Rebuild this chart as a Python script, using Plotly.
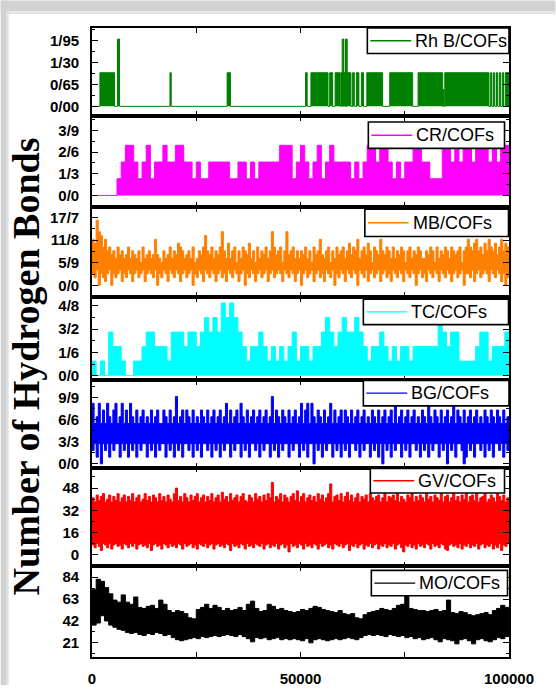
import plotly.graph_objects as go

# ---------------- data ----------------
X_MAX = 100000

series_names = ["Rh B/COFs", "CR/COFs", "MB/COFs", "TC/COFs", "BG/COFs", "GV/COFs", "MO/COFs"]
series_colors = ["#008000", "#FF00FF", "#FF8000", "#00FFFF", "#0000FF", "#FF0000", "#000000"]

# Rh B/COFs : events (start, end, level) above a zero baseline
rhb_start = [1900, 6100, 18700, 32400, 51200, 52500, 57000, 58300, 59700, 60000,
             60400, 60800, 61200, 62500, 63400, 64600, 65900, 71400, 78200, 84100,
             84600, 95600, 96300, 97000, 97700, 98400, 99100]
rhb_end = [5400, 6600, 19000, 33200, 51600, 56600, 57700, 59500, 60000, 60400,
           60800, 61200, 62100, 62900, 64000, 65100, 69700, 76900, 84100, 84400,
           95200, 95900, 96600, 97300, 98000, 98700, 100000]
rhb_level = [1, 2, 1, 1, 1, 1, 1, 1, 1, 2,
             1, 2, 1, 1, 1, 1, 1, 1, 1, 0.5,
             1, 1, 1, 1, 1, 1, 1]

# CR/COFs : block maxima (baseline 0), 100 blocks
cr_level = [0, 0, 0, 0, 0, 0, 1, 2, 3, 3,
            2, 1, 2, 3, 1, 2, 2, 3, 2, 2,
            3, 3, 2, 2, 1, 2, 1, 1, 2, 2,
            2, 2, 2, 1, 1, 2, 2, 1, 2, 1,
            2, 2, 2, 2, 2, 3, 3, 3, 1, 2,
            3, 2, 1, 2, 3, 1, 2, 3, 2, 2,
            2, 2, 1, 2, 1, 2, 3, 3, 2, 3,
            3, 2, 1, 2, 1, 2, 2, 3, 3, 2,
            2, 1, 1, 1, 3, 3, 2, 3, 2, 3,
            3, 2, 3, 3, 3, 2, 3, 2, 3, 3]

# MB/COFs : block max / min, 200 blocks
mb_upper = [12, 11, 17, 14, 13, 10, 12, 9, 10, 8, 9, 7, 10, 8, 9, 7, 8, 10, 7, 9,
            8, 7, 9, 6, 10, 7, 8, 9, 7, 8, 12, 8, 7, 6, 9, 7, 8, 10, 7, 9,
            8, 11, 10, 9, 7, 8, 9, 7, 10, 6, 7, 9, 8, 10, 13, 9, 8, 10, 7, 9,
            8, 10, 14, 9, 7, 11, 7, 9, 10, 6, 9, 7, 10, 9, 8, 11, 7, 9, 6, 10,
            7, 9, 8, 10, 7, 9, 14, 10, 8, 9, 10, 6, 9, 14, 8, 9, 10, 7, 9, 7,
            9, 8, 10, 7, 9, 6, 10, 8, 9, 12, 8, 7, 9, 10, 6, 9, 7, 10, 8, 9,
            10, 7, 9, 11, 8, 10, 9, 12, 7, 9, 10, 8, 11, 9, 6, 10, 9, 8, 12, 9,
            8, 10, 9, 7, 10, 7, 9, 8, 10, 9, 6, 9, 10, 7, 9, 8, 10, 9, 7, 7,
            9, 8, 10, 9, 6, 10, 7, 9, 8, 10, 9, 7, 10, 9, 8, 9, 10, 6, 9, 10,
            12, 10, 9, 11, 12, 9, 10, 8, 11, 9, 12, 10, 9, 11, 8, 10, 12, 9, 11, 10]
mb_lower = [3, 2, 4, 0, 3, 2, 1, 3, 4, 0, 3, 2, 3, 4, 1, 3, 2, 4, 3, 1,
            3, 4, 2, 3, 4, 1, 3, 4, 3, 2, 4, 0, 3, 2, 4, 3, 1, 4, 3, 2,
            4, 3, 1, 3, 4, 2, 3, 4, 0, 3, 2, 4, 3, 1, 4, 3, 2, 4, 3, 1,
            3, 4, 2, 3, 1, 4, 3, 2, 4, 3, 1, 3, 4, 0, 3, 2, 4, 3, 1, 3,
            4, 2, 3, 4, 1, 3, 4, 2, 3, 4, 3, 1, 4, 3, 2, 4, 3, 1, 3, 4,
            0, 3, 4, 2, 3, 4, 1, 3, 4, 2, 3, 1, 4, 3, 2, 4, 0, 3, 2, 4,
            3, 1, 4, 3, 2, 4, 3, 0, 4, 3, 2, 4, 1, 3, 4, 2, 3, 4, 1, 3,
            4, 2, 3, 1, 4, 3, 2, 4, 3, 1, 4, 3, 2, 4, 3, 0, 3, 4, 2, 3,
            1, 4, 3, 2, 4, 3, 1, 4, 3, 2, 4, 3, 1, 3, 4, 2, 3, 4, 0, 3,
            3, 2, 4, 1, 3, 4, 2, 3, 4, 3, 1, 4, 3, 2, 4, 3, 1, 3, 0, 2]

# TC/COFs : block maxima (baseline 0), 100 blocks
tc_level = [1, 0, 1, 0, 3, 2, 2, 1, 0, 0,
            1, 1, 2, 3, 3, 2, 2, 2, 1, 3,
            3, 3, 2, 3, 3, 2, 3, 4, 3, 4,
            3, 5, 4, 5, 4, 3, 2, 1, 2, 2,
            3, 2, 1, 2, 1, 2, 1, 2, 3, 1,
            2, 2, 1, 2, 2, 3, 4, 3, 2, 3,
            4, 3, 3, 4, 3, 2, 1, 2, 2, 3,
            2, 1, 2, 1, 2, 2, 1, 2, 2, 2,
            2, 2, 2, 4, 3, 2, 3, 3, 1, 1,
            1, 1, 2, 3, 3, 1, 2, 2, 2, 3]

# BG/COFs : block max / min, 200 blocks
bg_upper = [9, 6, 7, 9, 6, 8, 6, 9, 7, 6, 8, 9, 6, 7, 9, 6, 8, 6, 9, 7,
            6, 8, 6, 7, 8, 6, 7, 6, 8, 6, 7, 8, 6, 6, 8, 7, 6, 8, 6, 7,
            10, 6, 7, 8, 6, 8, 7, 6, 8, 6, 7, 6, 8, 7, 6, 8, 6, 7, 8, 6,
            7, 8, 6, 7, 9, 6, 8, 6, 7, 8, 6, 9, 7, 6, 8, 6, 7, 8, 6, 7,
            8, 6, 7, 8, 6, 7, 10, 6, 8, 7, 6, 8, 7, 6, 8, 6, 7, 8, 6, 7,
            9, 6, 8, 9, 6, 9, 7, 6, 8, 7, 6, 8, 6, 7, 9, 6, 8, 6, 7, 8,
            6, 8, 7, 6, 8, 6, 7, 8, 6, 7, 8, 6, 7, 6, 8, 7, 6, 8, 6, 7,
            8, 6, 7, 8, 6, 9, 6, 7, 8, 6, 7, 8, 6, 7, 8, 6, 7, 6, 8, 7,
            6, 9, 7, 6, 8, 7, 6, 8, 6, 7, 8, 6, 7, 9, 6, 8, 7, 6, 8, 6,
            7, 8, 6, 7, 8, 6, 7, 6, 8, 7, 6, 8, 7, 6, 8, 7, 6, 8, 6, 7]
bg_lower = [2, 3, 1, 3, 0, 3, 2, 3, 1, 3, 2, 3, 3, 1, 3, 2, 3, 1, 3, 2,
            3, 1, 3, 2, 3, 3, 1, 3, 2, 3, 1, 3, 2, 3, 3, 1, 3, 2, 3, 1,
            3, 2, 3, 1, 3, 3, 2, 3, 1, 3, 2, 3, 1, 3, 3, 2, 3, 1, 3, 2,
            3, 1, 3, 2, 3, 3, 1, 3, 2, 3, 3, 1, 3, 2, 3, 1, 3, 3, 2, 3,
            1, 3, 2, 3, 3, 1, 3, 2, 3, 1, 3, 2, 3, 3, 1, 3, 2, 3, 3, 1,
            3, 2, 3, 1, 3, 3, 0, 3, 2, 3, 1, 3, 2, 3, 3, 1, 3, 2, 3, 1,
            3, 2, 3, 1, 3, 3, 2, 3, 1, 3, 2, 3, 3, 1, 3, 2, 3, 1, 3, 0,
            3, 2, 3, 1, 3, 2, 3, 3, 1, 3, 2, 3, 1, 3, 3, 2, 3, 1, 3, 2,
            3, 1, 3, 2, 3, 3, 1, 3, 2, 3, 0, 3, 2, 3, 1, 3, 3, 2, 0, 1,
            3, 2, 3, 1, 3, 3, 2, 3, 1, 3, 2, 3, 1, 3, 3, 2, 3, 1, 3, 2]

# GV/COFs : block max / min, 200 blocks
gv_upper = [41, 38, 43, 39, 42, 44, 38, 40, 43, 38, 42, 39, 44, 38, 41, 43, 38, 42, 39, 44,
            38, 41, 43, 38, 40, 44, 39, 42, 38, 43, 41, 38, 44, 39, 42, 38, 43, 40, 38, 44,
            48, 39, 42, 38, 44, 41, 38, 43, 39, 42, 44, 38, 41, 43, 38, 42, 39, 44, 38, 41,
            43, 38, 45, 40, 42, 38, 44, 39, 41, 43, 38, 42, 44, 39, 38, 43, 41, 38, 44, 40,
            42, 38, 43, 39, 44, 41, 52, 38, 42, 40, 44, 38, 43, 41, 38, 42, 44, 39, 46, 38,
            42, 44, 38, 41, 43, 39, 42, 38, 44, 40, 43, 38, 41, 44, 51, 38, 42, 43, 39, 44,
            38, 42, 45, 39, 43, 38, 41, 44, 38, 42, 40, 43, 38, 44, 41, 39, 42, 43, 38, 41,
            44, 38, 42, 41, 43, 39, 44, 38, 42, 40, 38, 43, 41, 44, 38, 42, 39, 43, 41, 38,
            44, 40, 42, 38, 43, 41, 39, 44, 38, 42, 43, 38, 41, 44, 39, 42, 38, 43, 40, 44,
            38, 42, 43, 39, 44, 38, 41, 42, 44, 38, 40, 43, 41, 38, 44, 42, 39, 43, 38, 41]
gv_lower = [7, 5, 8, 6, 3, 8, 7, 5, 8, 4, 7, 8, 6, 7, 4, 8, 7, 5, 8, 6,
            8, 4, 7, 8, 6, 7, 5, 8, 3, 7, 8, 6, 7, 4, 8, 7, 5, 8, 6, 7,
            5, 8, 7, 4, 8, 6, 7, 8, 5, 7, 4, 8, 7, 6, 8, 5, 7, 8, 4, 7,
            8, 6, 7, 5, 8, 7, 3, 8, 6, 7, 5, 8, 7, 4, 8, 6, 7, 5, 8, 7,
            6, 8, 4, 7, 8, 5, 7, 6, 8, 4, 7, 8, 5, 7, 2, 8, 6, 7, 5, 8,
            7, 4, 8, 6, 7, 5, 8, 7, 4, 8, 6, 7, 8, 5, 7, 4, 8, 7, 6, 8,
            5, 7, 8, 3, 7, 6, 8, 5, 7, 8, 4, 7, 6, 8, 5, 7, 8, 4, 7, 6,
            8, 5, 7, 6, 8, 4, 7, 8, 5, 2, 7, 6, 8, 5, 7, 4, 8, 6, 7, 5,
            8, 7, 4, 8, 6, 7, 5, 8, 7, 4, 3, 7, 8, 6, 7, 5, 8, 4, 7, 6,
            8, 5, 7, 6, 8, 4, 7, 8, 5, 7, 6, 8, 4, 7, 5, 8, 3, 7, 6, 8]

# MO/COFs : block max / min, 100 blocks
mo_upper = [72, 82, 80, 74, 68, 62, 60, 67, 60, 58,
            65, 55, 54, 56, 57, 54, 62, 58, 52, 50,
            52, 51, 49, 45, 44, 53, 55, 58, 54, 57,
            55, 52, 54, 52, 53, 55, 52, 58, 61, 54,
            51, 52, 58, 56, 53, 54, 52, 51, 50, 51,
            53, 52, 54, 56, 55, 53, 52, 51, 50, 52,
            49, 48, 49, 45, 44, 48, 50, 51, 52, 54,
            53, 52, 54, 57, 58, 66, 54, 53, 52, 52,
            51, 52, 53, 51, 52, 62, 50, 49, 51, 50,
            48, 47, 48, 49, 50, 48, 52, 54, 57, 55]
mo_lower = [38, 40, 47, 42, 38, 36, 34, 33, 31, 30,
            31, 29, 28, 30, 29, 31, 30, 28, 29, 26,
            24, 23, 24, 25, 26, 25, 27, 26, 27, 28,
            27, 28, 29, 28, 27, 29, 27, 25, 22, 26,
            25, 26, 24, 25, 26, 24, 25, 24, 25, 24,
            23, 25, 21, 24, 25, 24, 23, 24, 25, 24,
            25, 26, 25, 24, 26, 28, 29, 28, 29, 28,
            27, 29, 28, 27, 28, 26, 27, 25, 26, 24,
            25, 26, 24, 22, 25, 24, 23, 20, 24, 25,
            23, 20, 24, 25, 23, 22, 24, 26, 25, 27]

# y tick values and their printed labels (as printed in the figure)
ytick_vals = [
    [0, 0.65, 1.30, 1.95],
    [0, 1.3, 2.6, 3.9],
    [0, 5.9, 11.8, 17.7],
    [0, 1.6, 3.2, 4.8],
    [0, 3.3, 6.6, 9.9],
    [0, 16, 32, 48],
    [21, 42, 63, 84],
]
ytick_text = [
    ["0/00", "0/65", "1/30", "1/95"],
    ["0/0", "1/3", "2/6", "3/9"],
    ["0/0", "5/9", "11/8", "17/7"],
    ["0/0", "1/6", "3/2", "4/8"],
    ["0/0", "3/3", "6/6", "9/9"],
    ["0", "16", "32", "48"],
    ["21", "42", "63", "84"],
]
y_ranges = [[-0.29, 2.33], [-0.7, 4.75], [-3.1, 20.4], [-0.33, 5.4],
            [-0.55, 12.4], [-8.5, 62.8], [7.4, 94.3]]
xtick_vals = [0, 25000, 50000, 75000, 100000]
xtick_text = ["0", "", "50000", "", "100000"]
y_title = "Number of Hydrogen Bonds"

# ---------------- layout geometry (px) ----------------
FIG_W, FIG_H = 556, 699
PL, PR = 91.5, 509.5
PT, PB = 28, 670.5
panel_edges = [28, 118, 211, 303, 388, 477, 578, 670.5]
# legend boxes: left, right, top, bottom (px)
legend_boxes = [(367.5, 509.5, 28, 54), (368.5, 505, 124, 151), (365, 509, 213, 241),
                (363.5, 509, 305, 331), (363.5, 509.5, 388, 414), (370.5, 505, 478, 503),
                (371.5, 508, 582, 608)]
HP = PB - PT
WP = PR - PL


def px2x(px):
    return (px - PL) / WP


def py2y(py):
    return (PB - py) / HP


def step_xy(values):
    step = X_MAX / len(values)
    xs = [i * step for i in range(len(values) + 1)]
    ys = list(values) + [values[-1]]
    return xs, ys


fig = go.Figure()
AX = ["", "2", "3", "4", "5", "6", "7"]


def axes(k):
    return dict(xaxis="x" + AX[k], yaxis="y" + AX[k])


# panel 1 : Rh B
xs, ys = [0], [0]
for s, e, l in zip(rhb_start, rhb_end, rhb_level):
    xs += [s, s, e, e]
    ys += [0, l, l, 0]
xs.append(X_MAX)
ys.append(0)
fig.add_trace(go.Scatter(x=xs, y=ys, mode="lines", fill="tozeroy", name=series_names[0],
                         line=dict(color=series_colors[0], width=1),
                         fillcolor=series_colors[0], hoverinfo="skip", **axes(0)))

# panels with zero baseline
for k, lev in [(1, cr_level), (3, tc_level)]:
    xs, ys = step_xy(lev)
    fig.add_trace(go.Scatter(x=xs, y=ys, mode="lines", fill="tozeroy", name=series_names[k],
                             line=dict(color=series_colors[k], width=1, shape="hv"),
                             fillcolor=series_colors[k], hoverinfo="skip", **axes(k)))

# band panels
for k, lo, hi in [(2, mb_lower, mb_upper), (4, bg_lower, bg_upper),
                  (5, gv_lower, gv_upper), (6, mo_lower, mo_upper)]:
    xs, ylo = step_xy(lo)
    _, yhi = step_xy(hi)
    fig.add_trace(go.Scatter(x=xs, y=ylo, mode="lines", name=series_names[k],
                             line=dict(color=series_colors[k], width=1, shape="hv"),
                             hoverinfo="skip", **axes(k)))
    fig.add_trace(go.Scatter(x=xs, y=yhi, mode="lines", fill="tonexty", name=series_names[k],
                             line=dict(color=series_colors[k], width=1, shape="hv"),
                             fillcolor=series_colors[k], hoverinfo="skip", **axes(k)))

tick_font = dict(family="Liberation Sans, Arial, sans-serif", size=15, color="black", weight="bold")
layout = dict(
    width=FIG_W, height=FIG_H,
    margin=dict(l=PL, r=FIG_W - PR, t=PT, b=FIG_H - PB, pad=0),
    paper_bgcolor="white", plot_bgcolor="white",
    showlegend=False,
)
for k in range(7):
    top, bot = panel_edges[k], panel_edges[k + 1]
    vals = ytick_vals[k]
    half = (vals[1] - vals[0]) / 2
    lo_r, hi_r = y_ranges[k]
    minor_vals = []
    v = vals[0] - half
    while v >= lo_r:
        minor_vals.append(v)
        v -= half
    v = vals[0] + half
    while v <= hi_r:
        minor_vals.append(v)
        v += half
    layout["yaxis" + AX[k]] = dict(
        domain=[py2y(bot), py2y(top)], range=y_ranges[k], anchor="x" + AX[k],
        tickmode="array", tickvals=vals, ticktext=ytick_text[k],
        ticks="inside", ticklen=6, tickwidth=1.3, tickcolor="black",
        showline=True, linecolor="black", linewidth=1.6, mirror="ticks",
        showgrid=False, zeroline=False, tickfont=tick_font, ticklabelstandoff=8,
        minor=dict(tickvals=minor_vals, ticks="inside", ticklen=3,
                   tickwidth=1.2, tickcolor="black", showgrid=False),
    )
    layout["xaxis" + AX[k]] = dict(
        domain=[0, 1], range=[0, X_MAX], anchor="y" + AX[k],
        tickmode="array", tickvals=xtick_vals, ticktext=xtick_text,
        ticks="inside", ticklen=5, tickwidth=1.3, tickcolor="black",
        showline=True, linecolor="black", linewidth=1.6, mirror="ticks",
        showgrid=False, zeroline=False, showticklabels=(k == 6),
        tickfont=dict(family="Liberation Sans, Arial, sans-serif", size=15,
                      color="black", weight="bold"),
        ticklabelstandoff=7,
    )

fig.update_layout(**layout)

# legends (one boxed entry per panel)
for k in range(7):
    x0, x1, y0, y1 = legend_boxes[k]
    ym = (y0 + y1) / 2
    fig.add_shape(type="rect", xref="paper", yref="paper",
                  x0=px2x(x0), x1=px2x(x1), y0=py2y(y1), y1=py2y(y0),
                  fillcolor="white", line=dict(color="black", width=1.6), layer="above")
    fig.add_shape(type="line", xref="paper", yref="paper",
                  x0=px2x(x0 + 3), x1=px2x(x0 + 44), y0=py2y(ym), y1=py2y(ym),
                  line=dict(color=series_colors[k], width=1.4), layer="above")
    fig.add_annotation(text=series_names[k], xref="paper", yref="paper",
                       x=px2x(x0 + 46), y=py2y(ym), xanchor="left", yanchor="middle",
                       showarrow=False,
                       font=dict(family="Liberation Sans, Arial, sans-serif", size=18, color="black"))

# y-axis title
fig.add_annotation(
    text="<b>" + y_title + "</b>", xref="paper", yref="paper",
    x=px2x(25), y=py2y(374), xanchor="center", yanchor="middle",
    textangle=-90, showarrow=False,
    font=dict(family="Liberation Serif, Times New Roman, serif", size=38, color="black"),
)

# card shadow frame
frame = [
    (0, FIG_W, 0, 11, "#d2d2d2"),
    (0, FIG_W, 11, 14, "#e4e4e4"),
    (0, 6, 0, FIG_H, "#d2d2d2"),
    (6, 8, 14, FIG_H, "#e2e2e2"),
]
for x0, x1, y0, y1, c in frame:
    fig.add_shape(type="rect", xref="paper", yref="paper",
                  x0=px2x(x0), x1=px2x(x1), y0=py2y(y1), y1=py2y(y0),
                  fillcolor=c, line=dict(width=0), layer="below")

fig.write_html("out.html")
